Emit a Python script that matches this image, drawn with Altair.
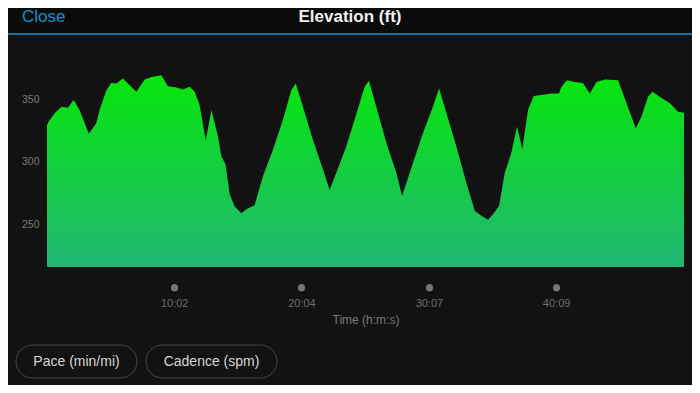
import altair as alt
import pandas as pd

# Elevation profile (time in seconds, elevation in ft)
time_s = [0, 8, 36, 68, 99, 126, 154, 198, 233, 249, 281, 304, 328, 359, 391, 423,
          462, 494, 541, 572, 612, 643, 675, 699, 722, 751, 778, 809, 825, 845, 864,
          888, 920, 943, 982, 1022, 1069, 1116, 1156, 1177, 1211, 1258, 1306, 1337,
          1369, 1416, 1460, 1503, 1523, 1558, 1606, 1653, 1680, 1732, 1779, 1826,
          1855, 1890, 1937, 1984, 2024, 2055, 2087, 2110, 2139, 2166, 2197, 2224,
          2249, 2276, 2303, 2339, 2387, 2423, 2434, 2460, 2497, 2536, 2568, 2600,
          2639, 2702, 2742, 2786, 2813, 2844, 2865, 2899, 2947, 2986, 3014]
elev_ft = [329, 332, 338.6, 343.9, 343.1, 349.2, 341.3, 322.2, 330.7, 341.3, 357.1,
           362.9, 362.4, 366.4, 361.1, 355.8, 365.6, 367.7, 369, 360.3, 359.3, 357.7,
           359.8, 355.8, 345.2, 316.9, 341.3, 320.1, 304.2, 297.6, 274, 264, 258.7,
           261.9, 265.1, 288.3, 309.5, 333.3, 357.1, 362.4, 343.9, 317.5, 293.7, 277.2,
           291, 312.1, 336, 359.8, 364.6, 343.9, 314.8, 291, 272.5, 299, 322.8, 343.9,
           358.5, 338.6, 312.1, 283.1, 260.6, 256.6, 253.4, 257.9, 264.5, 291, 306.9,
           328, 310.1, 341.3, 352.4, 353.2, 354.5, 354.5, 359.8, 365.1, 363.7, 362.9,
           354.5, 363.7, 365.6, 365.1, 346.6, 326.7, 336, 351.8, 355.8, 351.8, 346.6,
           339.9, 339.1]
x_ticks = [602, 1204, 1807, 2409]
y_ticks = [250, 300, 350]
y_floor = 215.6
title_text = "Elevation (ft)"
close_text = "Close"
button_labels = ["Pace (min/mi)", "Cadence (spm)"]
x_title = "Time (h:m:s)"

df = pd.DataFrame({"t": time_s, "elev": elev_ft})
one = pd.DataFrame({"k": [0]})

FONT = "Liberation Sans"
OX, OY = 47, 57  # plot origin on the page

area = alt.Chart(df).mark_area(
    color=alt.Gradient(
        gradient="linear",
        stops=[alt.GradientStop(color="#06e60a", offset=0),
               alt.GradientStop(color="#21b676", offset=1)],
        x1=1, x2=1, y1=0, y2=1,
    )
).encode(
    x=alt.X("t:Q", scale=alt.Scale(domain=[0, 3014], nice=False, zero=False),
            axis=alt.Axis(values=x_ticks, title=x_title, grid=False, domain=False,
                          offset=20, tickSize=0.5, tickWidth=7, tickCap="round",
                          tickColor="#767676", labelPadding=10, labelColor="#6e6e6e",
                          labelFontSize=11, labelFont=FONT, titleFont=FONT,
                          titleFontSize=12, titleFontWeight="normal",
                          titleColor="#7a7a7a", titlePadding=6,
                          labelExpr="floor(datum.value/60) + ':' + (datum.value%60 < 10 ? '0' : '') + (datum.value%60)")),
    y=alt.Y("elev:Q", scale=alt.Scale(domain=[y_floor, 383.6], nice=False, zero=False),
            axis=alt.Axis(values=y_ticks, title=None, grid=False, domain=False,
                          ticks=False, labelPadding=8, labelColor="#7a7a7a",
                          labelFontSize=10.5, labelFont=FONT)),
    y2=alt.datum(y_floor),
)

header_bg = alt.Chart(one).mark_rect(color="#0b0b0b").encode(
    x=alt.value(-OX), x2=alt.value(700 - OX), y=alt.value(-OY), y2=alt.value(33 - OY))
header_line = alt.Chart(one).mark_rule(color="#1c6d9e", strokeWidth=2).encode(
    x=alt.value(-OX), x2=alt.value(700 - OX), y=alt.value(34 - OY))
close = alt.Chart(one).mark_text(text=close_text, color="#1c8fd0", fontSize=17,
                                 font=FONT, align="left", baseline="middle").encode(
    x=alt.value(22 - OX), y=alt.value(16.5 - OY))
title = alt.Chart(one).mark_text(text=title_text, color="#f2f2f2", fontSize=17,
                                 fontWeight="bold", font=FONT, align="center",
                                 baseline="middle").encode(
    x=alt.value(350 - OX), y=alt.value(16.5 - OY))

layers = [header_bg, header_line, close, title, area]
for label, (bx0, bx1) in zip(button_labels, [(16, 137), (146, 277)]):
    layers.append(alt.Chart(one).mark_rect(cornerRadius=16.5, fill="#121212",
                                           stroke="#474747", strokeWidth=1).encode(
        x=alt.value(bx0 - OX), x2=alt.value(bx1 - OX),
        y=alt.value(345 - OY), y2=alt.value(378 - OY)))
    layers.append(alt.Chart(one).mark_text(text=label, color="#d6d6d6", fontSize=14,
                                           font=FONT, align="center",
                                           baseline="middle").encode(
        x=alt.value((bx0 + bx1) / 2 - OX), y=alt.value(361.5 - OY)))

chart = alt.layer(*layers).properties(
    width=637, height=210,
    padding={"left": 39, "top": 49, "right": 8, "bottom": 118},
    autosize=alt.AutoSizeParams(type="none"),
    background="#121212",
).configure_view(stroke=None)

chart.save("out.html", embed_options={"renderer": "svg", "actions": False})
